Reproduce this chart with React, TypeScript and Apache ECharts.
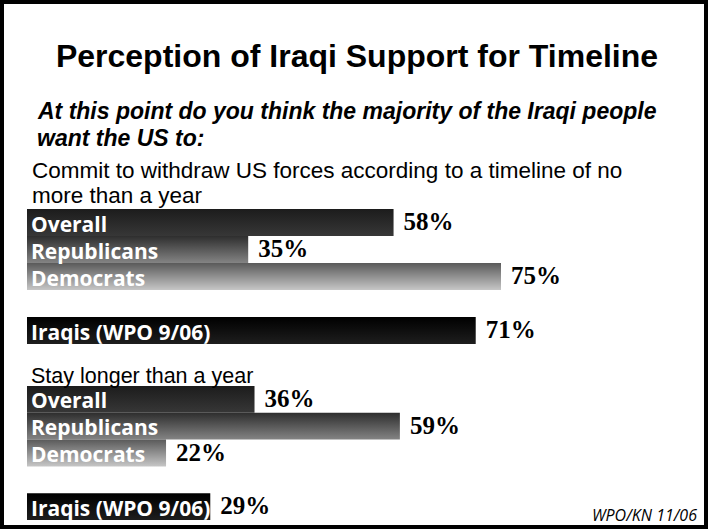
import React, { useEffect, useRef } from 'react';
import * as echarts from 'echarts';

const categories = ['Overall', 'Republicans', 'Democrats', '', 'Iraqis (WPO 9/06)'];
const withdrawValues: (number | null)[] = [58, 35, 75, null, 71];
const stayValues: (number | null)[] = [36, 59, 22, null, 29];

const titleText = 'Perception of Iraqi Support for Timeline';
const subtitleLines = ['At this point do you think the majority of the Iraqi people', 'want the US to:'];
const withdrawLines = ['Commit to withdraw US forces according to a timeline of no', 'more than a year'];
const stayLine = 'Stay longer than a year';
const footer = 'WPO/KN 11/06';

const gradStops: [string, string][] = [
  ['#1c1c1c', '#373737'],
  ['#2e2e2e', '#848484'],
  ['#5a5a5a', '#c6c6c6'],
  ['#000000', '#000000'],
  ['#000000', '#1e1e1e'],
];

const SANS = '"Liberation Sans", Arial, sans-serif';
const LABEL_SANS = '"Open Sans", sans-serif';
const SERIF = '"Liberation Serif", "Times New Roman", serif';

function grad(i: number) {
  const [a, b] = gradStops[i];
  return new echarts.graphic.LinearGradient(0, 0, 0, 1, [
    { offset: 0, color: a },
    { offset: 1, color: b },
  ]);
}

function barData(values: (number | null)[]) {
  return values.map((v, i) => (v == null ? '-' : { value: v, itemStyle: { color: grad(i) } }));
}

function plainData(values: (number | null)[]) {
  return values.map((v) => (v == null ? '-' : v));
}

function seriesFor(values: (number | null)[], g: number) {
  return [
    {
      type: 'bar',
      xAxisIndex: g,
      yAxisIndex: g,
      data: barData(values),
      barCategoryGap: '0%',
      barGap: '-100%',
      silent: true,
      label: {
        show: true,
        position: 'insideLeft',
        distance: 4,
        offset: [0, 1],
        formatter: '{b}',
        color: '#ffffff',
        fontFamily: LABEL_SANS,
        fontWeight: 'bold',
        fontSize: 21,
      },
    },
    {
      type: 'bar',
      xAxisIndex: g,
      yAxisIndex: g,
      data: plainData(values),
      barCategoryGap: '0%',
      barGap: '-100%',
      silent: true,
      itemStyle: { color: 'rgba(0,0,0,0)' },
      label: {
        show: true,
        position: 'right',
        distance: 10,
        offset: [0, -1],
        formatter: '{c}%',
        color: '#000000',
        fontFamily: SERIF,
        fontWeight: 'bold',
        fontSize: 25,
      },
    },
  ];
}

function txt(text: string, x: number, y: number, size: number, opts: any = {}) {
  const align = opts.align || 'left';
  const style: any = {
    text,
    x,
    y,
    align,
    textAlign: align,
    verticalAlign: 'middle',
    textVerticalAlign: 'middle',
    fill: '#000',
    fontSize: size,
    fontFamily: opts.family || SANS,
    fontWeight: opts.weight || 'normal',
    fontStyle: opts.style || 'normal',
  };
  return { type: 'text', z: 50, silent: true, style };
}

export default function App() {
  const ref = useRef<HTMLDivElement>(null);
  useEffect(() => {
    if (!ref.current) return;
    const chart = echarts.init(ref.current, undefined, { renderer: 'svg' });
    const option: any = {
      animation: false,
      backgroundColor: '#ffffff',
      grid: [
        { left: 27, width: 632, top: 209, height: 135 },
        { left: 27, width: 632, top: 386, height: 134 },
      ],
      xAxis: [0, 1].map((g) => ({ type: 'value', gridIndex: g, min: 0, max: 100, show: false })),
      yAxis: [0, 1].map((g) => ({
        type: 'category',
        gridIndex: g,
        data: categories,
        inverse: true,
        show: false,
      })),
      series: [...seriesFor(withdrawValues, 0), ...seriesFor(stayValues, 1)],
      graphic: [
        {
          type: 'rect',
          z: 100,
          silent: true,
          shape: { x: 2, y: 2, width: 704, height: 525 },
          style: { fill: 'none', stroke: '#000', lineWidth: 4 },
        },
        txt(titleText, 357, 56, 32, { align: 'center', weight: 'bold' }),
        txt(subtitleLines[0], 38, 111, 23, { weight: 'bold', style: 'italic' }),
        txt(subtitleLines[1], 37, 137.5, 23, { weight: 'bold', style: 'italic' }),
        txt(withdrawLines[0], 32, 170, 22.5),
        txt(withdrawLines[1], 32, 195, 22.5),
        txt(stayLine, 31, 376, 21.5),
        txt(footer, 697, 515, 16, { align: 'right', style: 'italic', family: LABEL_SANS }),
      ],
    };
    chart.setOption(option);
    return () => chart.dispose();
  }, []);
  return (
    <div
      ref={ref}
      style={{ position: 'fixed', left: 0, top: 0, width: 708, height: 529, background: '#fff' }}
    />
  );
}
